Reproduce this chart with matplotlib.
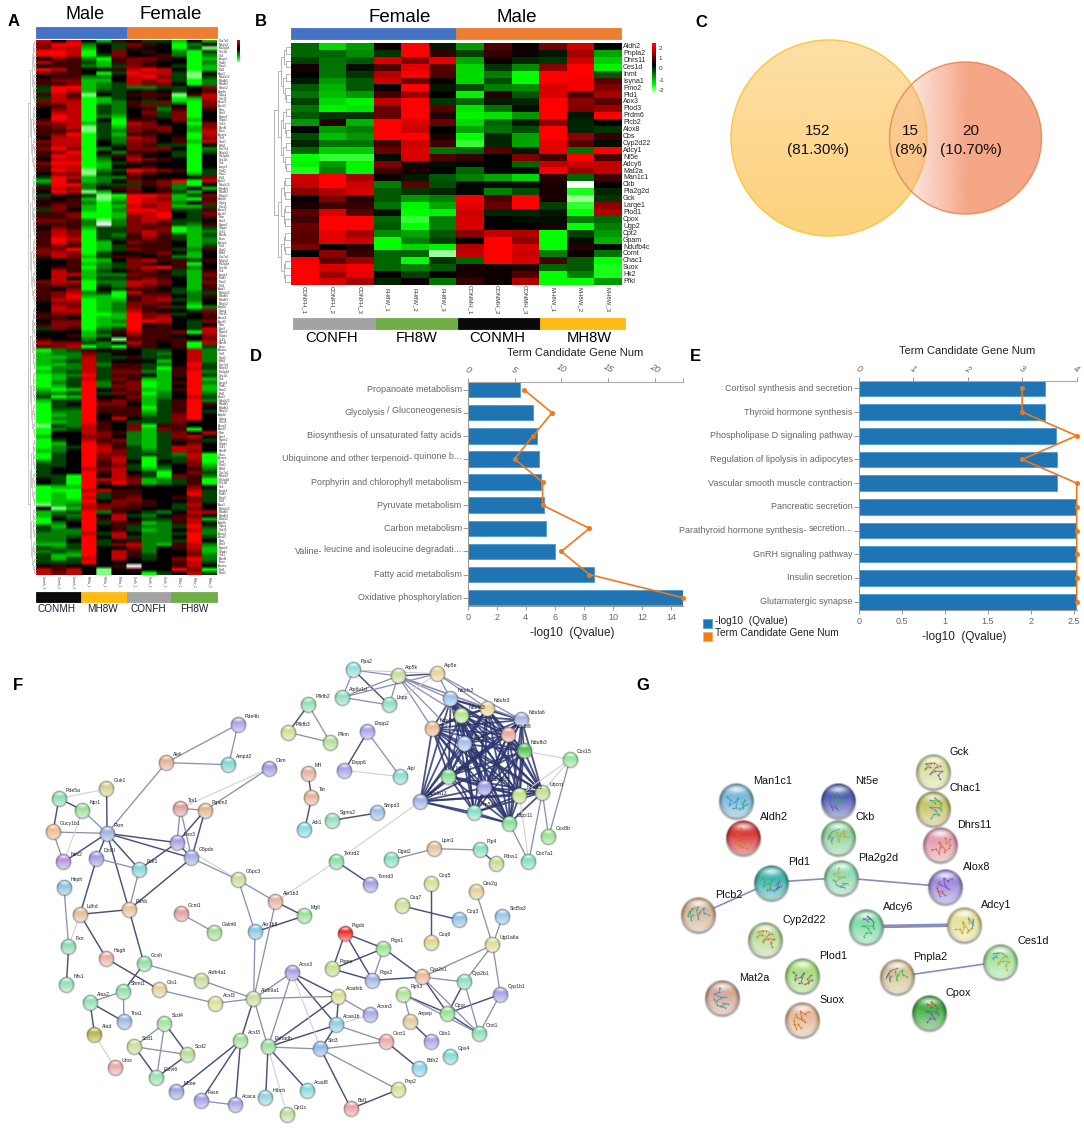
import itertools
import numpy as np
import matplotlib
matplotlib.use("Agg")
import matplotlib.pyplot as plt
from matplotlib.colors import LinearSegmentedColormap, Normalize, to_rgb
from matplotlib.patches import Circle, Rectangle

plt.rcParams['font.family'] = ['Liberation Sans', 'DejaVu Sans']
W, H = 1084, 1129
fig = plt.figure(figsize=(W / 100, H / 100), dpi=100, facecolor='white')

def axpx(x0, y0, x1, y1, **kw):
    return fig.add_axes([x0 / W, 1 - y1 / H, (x1 - x0) / W, (y1 - y0) / H], **kw)

ov = axpx(0, 0, W, H)
ov.set_axis_off()
ov.patch.set_alpha(0)
ov.set_xlim(0, W)
ov.set_ylim(H, 0)
ov.set_autoscale_on(False)

cmap = LinearSegmentedColormap.from_list('gbr', [(0, '#ffffff'), (1 / 6, '#00ff00'), (0.5, '#000000'),
                                                 (5 / 6, '#ff0000'), (1, '#ff0000')])
norm = Normalize(-3, 3)

# ------------------------------------------------------------------ Panel A data
A_ROWS = """
747 415 433 141|688 243 654 024|677 143 544 03l|887 046 454 203|887 036 445 202|465 205 665 401
755 315 654 402|455 213 654 301|875 445 787 401|655 403 877 3l4|455 224 786 3l3|566 114 767 302
556 123 766 402|388 123 223 346|387 133 454 345|575 l43 555 l57|376 013 454 017|677 012 536 106
557 032 563 406|467 032 452 505|477 032 463 604|487 021 453 604|587 040 554 614|667 130 764 406
567 l31 666 416|556 l32 656 417|568 031 554 407|477 032 764 506|677 042 664 517|577 043 653 304
686 024 666 402|568 042 554 303|587 035 644 304|477 024 765 404|688 013 544 404|577 014 454 404
587 l23 876 503|466 l34 654 413|387 122 544 446|185 124 656 807|388 233 356 204|576 245 645 241
487 l14 545 314|354 3l0 887 136|545 1l1 876 105|455 202 877 246|565 101 767 113|364 102 887 335
556 001 778 436|556 001 678 435
665 2l2 676 334|555 2w2 665 325|465 133 656 013|576 033 676 012|576 032 575 313|587 033 565 312
586 014 655 412|565 013 555 413|668 013 655 325|676 034 456 414|576 135 545 214|445 014 675 535
445 123 654 504|455 023 678 524|475 134 564 315|477 122 655 316|474 133 565 415|677 022 776 416
565 032 765 415|546 043 554 315|567 230 755 323|568 110 566 425|577 011 567 324|466 012 665 414
476 012 656 302|477 012 754 436|566 001 866 345|554 011 867 445|466 012 887 436|566 011 845 434
365 023 855 437|444 135 755 607|445 124 655 446|544 24l 555 546|766 324 754 507|567 020 554 503
023 545 433 472|122 634 432 472|112 733 533 472|123 734 441 472|112 725 532 483|022 735 530 573
123 736 621 582|012 835 541 583|013 736 511 481|023 825 601 582|013 826 601 481|101 845 611 581
223 836 502 482|301 844 612 473
133 856 513 582|034 866 413 585|033 855 503 584|022 855 513 583|012 845 523 684|022 847 433 684
012 854 333 644|l32 754 605 544|023 754 616 504|044 765 213 647|144 664 213 674|034 756 213 553
014 865 213 464|023 875 313 774|124 876 323 764|034 866 333 270|034 867 303 370|234 857 404 360
334 856 303 461|344 767 312 452|344 857 430 463|330 847 530 652|430 877 612 350|430 858 612 350
011 844 444 464|000 775 544 473|010 835 544 483|010 735 644 563|011 846 654 463|l12 766 554 374
4l1 765 544 364|123 825 432 477|132 847 324 564|043 857 433 571|024 835 512 574|314 845 322 383
322 845 312 472|222 737 422 382|223 847 322 483|224 834 522 384|113 836 721 572|323 844 624 571
232 847 524 461|311 847 534 462|313 747 434 682|333 844 444 573|454 445 w44 574|757 4l4 544 860
767 4l4 403 473
"""
A_CODES = {'w': -3.0, 'l': -2.5, '0': -2.0, '1': -1.5, '2': -1.0, '3': -0.5, '4': 0.0,
           '5': 0.5, '6': 1.0, '7': 1.5, '8': 2.0}
A_SAMPLES = ['Conmh_1', 'Conmh_2', 'Conmh_3', 'Mh8w_1', 'Mh8w_2', 'Mh8w_3',
             'Confh_1', 'Confh_2', 'Confh_3', 'Fh8w_1', 'Fh8w_2', 'Fh8w_3']
A_GENES = ['Cox7a1', 'Ndufa3', 'Pla2g2d', 'Ces1d', 'Gck', 'Large1', 'Plod1', 'Fmo2', 'Pld1', 'Aox3',
           'Ndufa13', 'Ndufb5', 'Ndufb3', 'Ndufs2', 'Atp5k', 'Uqcrq', 'Cox15', 'Acss3', 'Acsf3', 'Pkm',
           'Eno3', 'Pgam2', 'G6pdx', 'Scd1', 'Elovl6', 'Fasn', 'Acaca', 'Sirt3', 'Oxct1', 'Bdh2']
a_mat = np.array([[A_CODES[c] for c in r.replace(' ', '')]
                  for r in A_ROWS.replace('\n', '|').split('|') if r.strip()])

# ------------------------------------------------------------------ Panel B data
B_GENES = ['Aldh2', 'Pnpla2', 'Dhrs11', 'Ces1d', 'Inmt', 'Isyna1', 'Fmo2', 'Pld1', 'Aox3', 'Plod3', 'Prdm6',
           'Plcb2', 'Alox8', 'Cbs', 'Cyp2d22', 'Adcy1', 'Nt5e', 'Adcy6', 'Mat2a', 'Man1c1', 'Ckb', 'Pla2g2d',
           'Gck', 'Large1', 'Plod1', 'Cpox', 'Ugp2', 'Cpt2', 'Gpam', 'Ndufb4c', 'Comt', 'Chac1', 'Suox', 'Hk2', 'Pfkl']
B_SAMPLES = ['CONFH_1', 'CONFH_2', 'CONFH_3', 'FH8W_1', 'FH8W_2', 'FH8W_3',
             'CONMH_1', 'CONMH_2', 'CONMH_3', 'MH8W_1', 'MH8W_2', 'MH8W_3']
B_VALUES = [
    [-.8, -1.7, -1.2, .1, 2, -.2, -1.2, .6, .1, .9, 1.6, 0],
    [-.8, -.8, -1.1, -.4, 2, .4, -.5, .4, .1, -.2, 1.3, -1.3],
    [-.5, -.9, -.7, 1.7, 1, 1.8, -1.3, .1, -.3, -.4, 1.6, -1.6],
    [.2, -.9, -.1, .6, 1.8, .7, -1.7, -.4, -1.1, 1.1, 2, -1.9],
    [0, -.9, -.4, 1.4, 2, .6, -1.7, -1, -2, 2, 2, -.7],
    [-.2, -1.2, -.7, 1.6, .8, .1, -1.7, -.6, -2, 2, 1.9, .7],
    [-.7, -1.4, -.7, .1, 2, -.2, -.6, -1, -1.1, 1.7, 1.9, 1],
    [-.9, -1.5, -1.2, .5, 1.2, 0, -1.9, .3, -.7, 1.7, .6, 1.3],
    [-.5, -1.7, -1.9, 1.5, 2, -.4, -.8, -.2, -.3, 2, 1.1, .7],
    [-.9, -1.9, -1.8, .8, 2, .7, -1.8, -.9, -.1, 2, 1, 1.2],
    [-.7, -.4, -.4, .8, 2, .3, -1.9, -1.8, -1.2, 2, -.2, 2],
    [-1.2, .3, -1.4, 2, 1.7, .8, -1.7, -.8, -.2, 1.1, -.3, 0],
    [0, -1.2, -1, 2, 1.6, 0, -1.3, -.9, -.6, 2, -.3, -.4],
    [-.6, -1.5, -1.2, 2, 2, .2, -2, -.3, -1.3, 2, 1.1, .4],
    [-.3, -.9, -.9, .5, 1.6, .5, -2.2, -.3, -1.3, 1.8, .7, -.1],
    [-.8, -1.6, -1.6, .8, 1.7, -.9, -.8, .7, -.2, 1.8, -.9, 2],
    [-2, -2.2, -2.2, -.1, 1.7, .6, .4, 0, 1, .5, 2, .6],
    [-1.9, -1.2, -1.9, 1, .2, -.1, -.05, 0, -.8, 1.5, 1.6, 1.5],
    [-2.1, -1, -1.9, .5, .2, 0, -.8, -.05, -.1, 1.9, 1.2, 1.5],
    [1.6, 2, 1.3, .1, -.2, -.7, -1, -1.3, -1.7, .3, -.8, .5],
    [1.5, 2, 1.6, -1, .7, -.6, -.05, -.1, -.1, .2, -3, 0],
    [1.1, 1.4, 1.7, -.7, -.4, -.3, -.05, -1, -.6, .2, -2.1, -.3],
    [.05, 1, .3, -.7, -1.2, -1, 1.9, .6, 2, .2, -2.6, -.4],
    [.2, .5, .4, -.9, -1.9, -1.3, 1.8, .8, 2, -.5, -2.2, 1.1],
    [.7, 1.7, .7, -.1, -2, -1.9, 1.6, -.3, -.3, -.2, -2, 1.4],
    [.5, 2, 2, -.8, -2.2, -1, 1.7, 0, -.1, -.1, -1, -.8],
    [.8, 2, 2, -.7, -2, -1, 1.7, 0, 0, .2, -2, -1],
    [.7, 1.8, 1.3, -1.1, -1.3, -.7, 1.1, 1.5, 1.4, -2, -.5, -1.2],
    [.7, 1.8, 1.6, -2, -1, -.5, 0, 2, 1.1, -2, -.1, -1.4],
    [1, 0, .3, -2, -1.7, -1.9, 1.4, 2, 1.7, -2, .3, -.05],
    [0, 1.1, .4, -.8, -.8, -2.6, 1.5, 2, 1.6, -1, .1, -.9],
    [1.9, .7, 1.2, -.8, -2, -.4, -.8, 2, 1.7, .5, -.7, -2],
    [2, 1.7, 1.9, -.8, -1, -.7, .2, .1, .3, -.8, -.7, -2.1],
    [2, 1.2, 1.8, 0, -.5, 0, .2, .1, .6, -2, -1, -2.1],
    [2, 1.7, 1.3, -.3, .1, -.9, .4, .1, 1.4, -2, -2, -1.2],
]

# ------------------------------------------------------------------ Panels D, E data
D_TERMS = ['Propanoate metabolism', 'Glycolysis', 'Biosynthesis of unsaturated fatty acids',
           'Ubiquinone and other terpenoid-', 'Porphyrin and chlorophyll metabolism', 'Pyruvate metabolism',
           'Carbon metabolism', 'Valine-', 'Fatty acid metabolism', 'Oxidative phosphorylation']
D_TERMS_TAIL = {1: '/ Gluconeogenesis', 3: 'quinone b...', 7: 'leucine and isoleucine degradati...'}
D_QVALUE = [3.6, 4.52, 4.75, 4.94, 5.07, 5.28, 5.39, 5.99, 8.72, 14.8]
D_GENENUM = [6, 9, 7, 5, 8, 8, 13, 10, 13, 23]
E_TERMS = ['Cortisol synthesis and secretion', 'Thyroid hormone synthesis', 'Phospholipase D signaling pathway',
           'Regulation of lipolysis in adipocytes', 'Vascular smooth muscle contraction', 'Pancreatic secretion',
           'Parathyroid hormone synthesis-', 'GnRH signaling pathway', 'Insulin secretion', 'Glutamatergic synapse']
E_TERMS_TAIL = {6: 'secretion...'}
E_QVALUE = [2.17, 2.17, 2.29, 2.31, 2.31, 2.53, 2.53, 2.53, 2.53, 2.53]
E_GENENUM = [3, 3, 4, 3, 4, 4, 4, 4, 4, 4]

# ------------------------------------------------------------------ Panel F data (3x crop coordinates)
F_LEFT = [('Pde4b', 714, 193, '#a9a6e4'), ('Ampd2', 686, 314, '#7fd8d0'), ('Ak4', 499, 308, '#e3b39a'),
          ('Ckm', 807, 325, '#9f9fe0'), ('Guk1', 320, 387, '#d8d08f'), ('Pde5a', 177, 415, '#8fdcb0'),
          ('Npr1', 248, 451, '#9fe09f'), ('Tpi1', 541, 445, '#e0a0a0'), ('Pgam2', 615, 451, '#e0b890'),
          ('Gucy1b1', 159, 516, '#eebc8c'), ('Pkm', 321, 520, '#9fb4e4'), ('Eno3', 531, 548, '#a6a0e6'),
          ('G6pdx', 575, 594, '#9fb0e4'), ('Nos2', 191, 606, '#b794e6'), ('Dot1l', 290, 595, '#a29ee4'),
          ('Pck1', 418, 628, '#88d4d8'), ('G6pc3', 715, 660, '#c4e09a'), ('Heph', 192, 684, '#90c4dc'),
          ('Ldhd', 240, 763, '#e0c09a'), ('Pdhb', 387, 749, '#e6c49c'), ('Akr1b3', 827, 725, '#e8b4a4'),
          ('Gcnt1', 543, 761, '#e0a0a0'), ('Galnt6', 643, 817, '#a4e094'), ('Akr1b8', 765, 816, '#88c8e8'),
          ('Fxn', 206, 859, '#90dcb0'), ('Hagh', 319, 895, '#e8b0a0'), ('Gcsh', 432, 911, '#90e0a8'),
          ('Aldh4a1', 604, 961, '#c8dc98'), ('Nfs1', 199, 975, '#94e0b4'), ('Gls1', 479, 990, '#e0d498'),
          ('Shmt1', 370, 994, '#94e0a4'), ('Alas2', 270, 1027, '#94e0b4'), ('Acsl3', 647, 1030, '#dce09c'),
          ('Aldh9a1', 761, 1016, '#c8e09c'), ('Tha1', 372, 1085, '#a0b8e8'), ('Acss3', 876, 938, '#a8a4e4'),
          ('Alad', 284, 1124, '#b8b44c'), ('Scd1', 403, 1160, '#c8e09c'), ('Scd4', 494, 1090, '#a4e4a0'),
          ('Scd2', 563, 1184, '#b4e09c'), ('Elovl6', 470, 1252, '#94e4ac'), ('Acsf3', 722, 1141, '#a8e09c'),
          ('Ehhadh', 804, 1161, '#9ce09c'), ('Mcee', 530, 1294, '#a0a8e4'), ('Fasn', 603, 1322, '#a4a4e8'),
          ('Acaca', 706, 1335, '#a8a8e8'), ('Hibch', 797, 1314, '#94d4e0'), ('Cpt1c', 861, 1365, '#bce09c'),
          ('Uros', 345, 1224, '#e8aca4')]
F_RIGHT = [('Ppa2', 161, 30, '#94e0dc'), ('Atp5k', 294, 48, '#c4e09c'), ('Atp5e', 412, 41, '#e4d49c'),
           ('Atp6v1d', 127, 112, '#90e0c0'), ('Lhpp', 268, 135, '#90e0c4'), ('Pfkfb2', 25, 135, '#94e0b4'),
           ('Pfkfb3', -35, 217, '#d0e094'), ('Pfkm', 91, 247, '#b4e09c'), ('Enpp2', 202, 216, '#a8a8e8'),
           ('Enpp6', 134, 331, '#a8a4e8'), ('Alpl', 301, 350, '#8ce0d0'), ('Mif', 24, 341, '#e4b49c'),
           ('Tat', 35, 412, '#e4b49c'), ('Adi1', 14, 510, '#88dce0'), ('Sgms2', 97, 481, '#94e0bc'),
           ('Smpd3', 231, 459, '#9cc0e4'), ('Ndufs2', 452, 117, '#9cc4e8'), ('Ndufa3', 484, 167, '#b4e890'),
           ('Ndufs3', 561, 145, '#e8d49c'), ('Ndufa6', 665, 180, '#a8b4e8'), ('Ndufa1', 397, 205, '#e8bc90'),
           ('Ndufb8', 624, 224, '#eca8a0'), ('Ndufb2', 494, 252, '#a4c0ec'), ('Ndufb3', 672, 273, '#58c058'),
           ('Ndufb7', 446, 349, '#80e090'), ('Ndufb5', 554, 383, '#a8a0e8'), ('Ndufc2', 659, 406, '#c4e48c'),
           ('Uqcrq', 727, 397, '#bce090'), ('Ndufa13', 361, 424, '#a0b4e4'), ('Atp5a1', 523, 458, '#88e0c0'),
           ('Uqcr11', 628, 490, '#84e094'), ('Cox15', 810, 298, '#98e4a0'), ('Cox8b', 746, 530, '#9ce494'),
           ('Cox7a1', 686, 605, '#84e0c0'), ('Lpin1', 404, 566, '#e0c49c'), ('Dgat2', 273, 600, '#8ce0c0'),
           ('Pip4', 540, 570, '#8ce0bc'), ('Pdss1', 589, 612, '#c0e094'), ('Txnrd2', 109, 604, '#8ce0a8'),
           ('Txnrd3', 212, 673, '#a4a4e4'), ('Coq5', 394, 671, '#d8e094'), ('Coq7', 308, 738, '#d0e098'),
           ('Coq3', 479, 780, '#94c4e8'), ('Coq6', 394, 847, '#dcd890'), ('Ces2g', 528, 694, '#e0d098'),
           ('Srd5a3', 608, 769, '#98c8e8'), ('Ugt1a6a', 578, 855, '#e0dc98'), ('Ptgds', 135, 820, '#f03030'),
           ('Ptgs1', 251, 865, '#98e494'), ('Ptges', 98, 927, '#c4e090'), ('Ptgs2', 218, 961, '#a4b4e8'),
           ('Cyp2e1', 367, 951, '#ecb89c'), ('Cyp2b1', 493, 966, '#8ce0c8'), ('Cyp1b1', 601, 1003, '#a8a4e8'),
           ('Rph3', 311, 1004, '#b4e494'), ('Anpep', 332, 1084, '#e0cc98'), ('Cdo1', 394, 1145, '#a8a8e8'),
           ('Cpor', 443, 1060, '#98e494'), ('Crot1', 537, 1121, '#8ce0b4'), ('Gpx4', 452, 1189, '#88dcd4'),
           ('Acadsb', 116, 1009, '#dce094'), ('Acaa1b', 109, 1095, '#90d0e4'), ('Acsm3', 211, 1064, '#a8ace8'),
           ('Sirt3', 62, 1167, '#94b8e8'), ('Oxct1', 258, 1145, '#ecaca4'), ('Bdh2', 359, 1227, '#90d4e8'),
           ('Pnp2', 294, 1289, '#d8e094'), ('Bsl1', 153, 1346, '#e8a4a8'), ('Acad8', 22, 1291, '#88dcdc'),
           ('Mgll', 12, 768, '#98e49c')]
F_EDGES_STRONG = """Guk1-Pkm Pde5a-Npr1 Pde5a-Gucy1b1 Nos2-Pkm Pkm-Dot1l Pkm-Pck1 Pkm-Pdhb Pkm-Eno3 Pkm-G6pdx
Pgam2-Eno3 Pgam2-G6pdx Eno3-Pck1 Eno3-G6pdx Dot1l-Ldhd G6pdx-Pdhb Akr1b3-Mgll Akr1b8-Mgll Ldhd-Pdhb Ldhd-Hagh
Fxn-Nfs1 Pdhb-Gcsh Hagh-Gls1 Gcsh-Shmt1 Alas2-Tha1 Alas2-Alad Scd1-Elovl6 Scd4-Scd2 Scd2-Elovl6 Aldh9a1-Acsf3
Acss3-Acaa1b Acss3-Acadsb Acsf3-Mcee Acsf3-Fasn Acsf3-Acaca Ehhadh-Hibch Ehhadh-Acad8 Ehhadh-Acaa1b Ehhadh-Acadsb
Acadsb-Acaa1b Sirt3-Acaa1b Sirt3-Bsl1 Bsl1-Pnp2 Oxct1-Bdh2 Ppa2-Lhpp Atp5k-Atp5e Pfkfb2-Pfkfb3 Enpp2-Enpp6 Mif-Tat
Tat-Adi1 Sgms2-Smpd3 Txnrd2-Txnrd3 Pip4-Pdss1 Coq5-Coq6 Coq7-Coq3 Ptgds-Ptges Ptgds-Ptgs1 Ptgds-Ptgs2 Ptges-Ptgs1
Ptges-Ptgs2 Ptgs1-Cyp2e1 Ptgs2-Cyp2e1 Cyp2e1-Cpor Cyp2b1-Cpor Cyp1b1-Cpor Cpor-Crot1 Rph3-Cpor Anpep-Cdo1""".split()
F_EDGES_MEDIUM = """Pde4b-Ak4 Pde4b-Ampd2 Ak4-Ampd2 Ak4-Pkm Ckm-Pgam2 Npr1-Pkm Gucy1b1-Pkm Gucy1b1-Nos2 Tpi1-Pgam2
Tpi1-Eno3 Tpi1-G6pdx Dot1l-Pck1 Pck1-Pdhb G6pdx-G6pc3 G6pc3-Akr1b3 G6pc3-Akr1b8 Akr1b3-Aldh9a1 Akr1b8-Aldh9a1 Heph-Fxn
Gcsh-Aldh4a1 Aldh4a1-Aldh9a1 Gls1-Acsl3 Acsl3-Aldh9a1 Shmt1-Alas2 Shmt1-Tha1 Scd1-Scd4 Scd1-Scd2 Scd4-Elovl6 Gcnt1-Galnt6
Aldh9a1-Ehhadh Aldh9a1-Acss3 Aldh9a1-Acadsb Acss3-Ehhadh Fasn-Acaca Ehhadh-Sirt3 Acadsb-Acsm3 Acaa1b-Oxct1 Sirt3-Oxct1
Sirt3-Pnp2 Ppa2-Atp5k Ppa2-Atp6v1d Atp5k-Atp6v1d Atp5k-Lhpp Atp6v1d-Lhpp Atp6v1d-Atp5e Pfkfb2-Pfkm Pfkfb3-Pfkm Enpp2-Alpl
Atp5k-Ndufs2 Atp5k-Ndufa1 Atp5k-Ndufa6 Atp5k-Ndufs3 Atp5k-Ndufa3 Atp5e-Ndufs2 Atp5e-Ndufa6 Atp5e-Ndufs3 Atp5k-Ndufb2
Cox7a1-Uqcr11 Cox7a1-Uqcrq Cox8b-Uqcrq Cox8b-Cox15 Dgat2-Lpin1 Lpin1-Pip4 Ces2g-Ugt1a6a Srd5a3-Ugt1a6a Ugt1a6a-Cyp1b1
Ugt1a6a-Cyp2e1 Ugt1a6a-Cyp2b1 Ptgs1-Ptgs2 Cyp2e1-Cyp2b1 Cyp2e1-Crot1 Cyp2b1-Crot1 Cyp1b1-Crot1 Rph3-Anpep Rph3-Crot1""".split()
F_EDGES_WEAK = """Ckm-Tpi1 Pde5a-Guk1 Npr1-Nos2 G6pc3-Eno3 Akr1b3-Txnrd2 Ldhd-Fxn Alad-Uros Acss3-Sirt3 Ehhadh-Cpt1c
Acaa1b-Acsm3 Ppa2-Atp5e Lhpp-Atp5e Enpp6-Alpl Cox15-Uqcrq Cox15-Ndufb3 Cox15-Ndufc2 Cox7a1-Ndufc2 Ndufa13-Txnrd2""".split()
F_CLUSTER = ['Ndufs2', 'Ndufa3', 'Ndufs3', 'Ndufa6', 'Ndufa1', 'Ndufb8', 'Ndufb2', 'Ndufb3', 'Ndufb7',
             'Ndufb5', 'Ndufc2', 'Uqcrq', 'Ndufa13', 'Atp5a1', 'Uqcr11']

# ------------------------------------------------------------------ Panel G data (3x crop coordinates)
G_NODES = [('Man1c1', 290, 243, '#7db7d8', 340, 183), ('Aldh2', 311, 353, '#d93a3a', 361, 292),
           ('Nt5e', 596, 243, '#5562b8', 646, 183), ('Ckb', 596, 353, '#8fd49f', 646, 292),
           ('Gck', 880, 155, '#d5e29c', 930, 95), ('Chac1', 880, 265, '#c8c56a', 930, 205),
           ('Dhrs11', 902, 375, '#e3a0b0', 952, 314), ('Pld1', 393, 487, '#43b5ae', 443, 427),
           ('Pla2g2d', 604, 473, '#8fdcb2', 654, 413), ('Alox8', 917, 500, '#9f8fdc', 968, 440),
           ('Plcb2', 175, 585, '#d6b797', 225, 524), ('Cyp2d22', 377, 658, '#b8dd9c', 427, 599),
           ('Adcy6', 678, 620, '#84dcac', 728, 561), ('Adcy1', 972, 615, '#e6e19d', 1022, 555),
           ('Plod1', 487, 768, '#a7e07f', 537, 708), ('Mat2a', 246, 833, '#d7a897', 296, 774),
           ('Suox', 487, 899, '#e4bc9a', 537, 840), ('Pnpla2', 771, 770, '#d8c697', 820, 710),
           ('Ces1d', 1082, 725, '#a5e3a0', 1132, 664), ('Cpox', 869, 877, '#43b047', 918, 818)]
G_EDGES = [('Plcb2', 'Pld1', 1.2), ('Pld1', 'Pla2g2d', 1.2), ('Pla2g2d', 'Alox8', 1.2),
           ('Adcy6', 'Adcy1', 2.6), ('Pnpla2', 'Ces1d', 1.2)]
G_RIBBON_U = [-.55, -.35, -.45, -.1, .1, -.05, .3, .5, .35, .6, .2, -.2]
G_RIBBON_V = [-.3, -.05, .3, .1, -.25, .45, .2, -.1, .5, .25, .6, .55]
G_RIBBON_COLORS = ['#2f8fd0', '#e05a2a', '#30b060', '#c8a020', '#8040c0']

# ================================================================== drawing helpers
def dendro(ax_like, lo, hi, x_right, x_left, ytop, rowh, color='#b8b8b8', lw=.5):
    span = max(1, hi - lo)
    total = x_right - x_left
    def rec(a, b, n):
        if b - a == 1:
            return ytop + (a + .5) * rowh, x_right
        m = (a + b) // 2
        y1, x1 = rec(a, m, n)
        y2, x2 = rec(m, b, n)
        xp = x_right - total * ((b - a) / n) ** .45
        ax_like.plot([x1, xp, xp, x2], [y1, y1, y2, y2], color=color, lw=lw, zorder=1)
        return (y1 + y2) / 2, xp
    return rec(lo, hi, span)

def sphere(rgb_hex, n=44):
    c = np.array(to_rgb(rgb_hex))
    g = np.linspace(-1.18, 1.18, n)
    u, v = np.meshgrid(g, g)
    r = np.hypot(u, v)
    light = np.clip(.5 * (v + .2), 0, .5)[..., None]
    img = c * (1 - light) + light
    dark = np.clip((r - .72) / .28, 0, 1)[..., None] * np.clip(.7 - .75 * v, .05, .8)[..., None]
    img = img * (1 - dark) + (c * .4) * dark
    hl = (np.exp(-((u / .5) ** 2 + ((v + .62) / .2) ** 2)) * .75)[..., None]
    img = img * (1 - hl) + hl
    alpha = np.clip((1 - r) * n / 4, 0, 1)
    rs = np.hypot(u, v - .12)
    sh = np.clip((1.04 - rs) * 8, 0, 1) * .5
    out_a = alpha + (1 - alpha) * sh
    rgb = (img * alpha[..., None] + .3 * (1 - alpha[..., None]) * sh[..., None]) / np.maximum(out_a[..., None], 1e-3)
    return np.dstack([np.clip(rgb, 0, 1), out_a])

def put_sphere(x, y, rad, col, z=5):
    e = rad * 1.18
    ov.imshow(sphere(col), extent=(x - e, x + e, y + e, y - e), zorder=z, aspect='auto', interpolation='bilinear')

def strip(edges, y0, y1, colors, edge=None):
    for x0, x1, c in zip(edges[:-1], edges[1:], colors):
        ov.add_patch(Rectangle((x0, y0), x1 - x0, y1 - y0, facecolor=c, edgecolor=edge or c, lw=.6, zorder=2))

def label(x, y, s, size, **kw):
    kw.setdefault('ha', 'center')
    kw.setdefault('va', 'center')
    kw.setdefault('color', 'black')
    return ov.text(x, y, s, fontsize=size, zorder=20, **kw)

# ================================================================== panel letters
for s, x, y in [('A', 13.5, 22), ('B', 261, 22), ('C', 701.5, 22.5), ('D', 255.5, 356.5), ('E', 695, 356.5),
                ('F', 17.5, 685.5), ('G', 643, 685.5)]:
    label(x, y, s, 12, fontweight='bold')

# ================================================================== Panel A
axa = axpx(36, 39.5, 217, 575)
axa.imshow(np.repeat(a_mat, 10, axis=1), cmap=cmap, norm=norm, aspect='auto', interpolation='bilinear')
axa.set_axis_off()
strip([36, 127, 217], 27, 38, ['#4472c4', '#ed7d31'])
label(85, 14.5, 'Male', 13)
label(171, 14.5, 'Female', 13.5)
strip([36, 81, 127, 171, 217], 592, 602, ['#0a0a0a', '#fbbc13', '#a3a3a3', '#70ad47'])
for x, s in zip([56, 103, 148, 194], ['CONMH', 'MH8W', 'CONFH', 'FH8W']):
    label(x, 608.5, s, 7.2, color='#1a1f3a')
nrow_a = a_mat.shape[0]
rowh_a = (575 - 39.5) / nrow_a
for i in range(nrow_a):
    label(218.5, 39.5 + (i + .5) * rowh_a, A_GENES[i % len(A_GENES)], 2.2, ha='left', color='#333333')
for j, s in enumerate(A_SAMPLES):
    label(36 + (j + .5) * 181 / 12, 582, s, 2.2, rotation=-90, color='#444444')
dendro(ov, 0, nrow_a // 2, 35.5, 28, 39.5, rowh_a)
dendro(ov, nrow_a // 2, nrow_a, 35.5, 28, 39.5, rowh_a)
ov.plot([28, 28], [160, 460], color='#b8b8b8', lw=.5, zorder=1)
axac = axpx(237, 39.5, 239.5, 62)
axac.imshow(np.linspace(2, -2.6, 64)[:, None], cmap=cmap, norm=norm, aspect='auto')
axac.set_axis_off()

# ================================================================== Panel B
axb = axpx(290.5, 43.3, 621.5, 285)
axb.imshow(np.array(B_VALUES), cmap=cmap, norm=norm, aspect='auto', interpolation='nearest')
axb.set_axis_off()
strip([291, 455.7, 621], 28, 39, ['#4472c4', '#ed7d31'], None)
label(400, 17, 'Female', 13.5)
label(517, 17, 'Male', 13.5)
strip([293, 376, 458, 540, 625], 318, 329, ['#a3a3a3', '#70ad47', '#0a0a0a', '#fbbc13'])
for x, s in zip([332, 417, 497, 589], ['CONFH', 'FH8W', 'CONMH', 'MH8W']):
    label(x, 338, s, 10.6)
rowh_b = (285 - 43.3) / len(B_GENES)
for i, g in enumerate(B_GENES):
    label(623, 43.3 + (i + .5) * rowh_b, g, 5, ha='left', color='#222222')
for j, s in enumerate(B_SAMPLES):
    label(290.5 + (j + .5) * 331 / 12, 300, s, 4.3, rotation=-90, color='#333333')
dendro(ov, 0, 19, 290, 278, 43.3, rowh_b, color='#a8a8a8', lw=.6)
dendro(ov, 19, 35, 290, 278, 43.3, rowh_b, color='#a8a8a8', lw=.6)
ov.plot([278, 274, 274, 278], [110, 110, 215, 215], color='#a8a8a8', lw=.6, zorder=1)
axbc = axpx(652, 43, 656, 93)
axbc.imshow(np.linspace(2.2, -2.8, 64)[:, None], cmap=cmap, norm=norm, aspect='auto')
axbc.set_axis_off()
for s, y in zip(['2', '1', '0', '-1', '-2'], [48, 59, 69, 80, 90]):
    label(658.5, y, s, 4.5, ha='left', color='#333333')

# ================================================================== Panel C
vg = np.linspace(0, 1, 64)[:, None]
left_img = np.array(to_rgb('#fddfa6')) * (1 - vg[..., None]) + np.array(to_rgb('#fdd27c')) * vg[..., None]
im1 = ov.imshow(left_img, extent=(731, 927, 236, 40), zorder=3, aspect='auto')
im1.set_clip_path(Circle((829, 138), 98, transform=ov.transData))
ov.add_patch(Circle((829, 138), 98, fill=False, edgecolor='#f8c63f', lw=1, zorder=4))
xs = np.linspace(889.5, 1041.5, 160)
ramp = np.clip(.3 + .7 * (xs - 913) / (967 - 913), .3, 1)
right_img = np.zeros((2, xs.size, 4))
right_img[..., :3] = to_rgb('#f5a687')
right_img[..., 3] = ramp
im2 = ov.imshow(right_img, extent=(889.5, 1041.5, 214, 62), zorder=5, aspect='auto')
im2.set_clip_path(Circle((965.5, 138), 76, transform=ov.transData))
ov.add_patch(Circle((965.5, 138), 76, fill=False, edgecolor='#ee8b57', lw=1, zorder=6))
for x, a, b in [(818, '152', '(81.30%)'), (910.7, '15', '(8%)'), (970.7, '20', '(10.70%)')]:
    label(x, 131, a, 11, color='#111111')
    label(x, 150, b, 11, color='#111111')

# ================================================================== Panels D, E
def enrich(box, qvals, nums, terms, tails, xmax, top_max, top_ticks, top_labels, bot_ticks, ylim, hbar):
    ax = axpx(*box)
    y = np.arange(len(qvals))
    ax.barh(y, qvals, height=hbar, color='#1f74b4', edgecolor='#4a9ad4', lw=.6, zorder=2)
    ax.set_xlim(0, xmax)
    ax.set_ylim(*ylim)
    for s in ['top', 'right']:
        ax.spines[s].set_visible(False)
    for s in ['left', 'bottom']:
        ax.spines[s].set_color('#999999')
    ax.set_xticks(bot_ticks)
    ax.set_xticklabels([str(t) for t in bot_ticks])
    ax.tick_params(axis='x', length=3, width=.7, color='#999999', labelcolor='#666666', labelsize=6.5, pad=2)
    ax.set_yticks(y)
    ax.set_yticklabels([])
    ax.tick_params(axis='y', length=3.5, width=.7, color='#999999')
    tw = ax.twiny()
    tw.set_xlim(0, top_max)
    tw.plot(nums, y, color='#f07818', lw=1.2, marker='o', ms=2.6, zorder=5, clip_on=False)
    for s in ['left', 'right', 'bottom']:
        tw.spines[s].set_visible(False)
    tw.spines['top'].set_color('#aaaaaa')
    tw.set_xticks(top_ticks)
    tw.set_xticklabels(top_labels)
    tw.tick_params(axis='x', length=3, width=.7, color='#999999', labelcolor='#666666', labelsize=6.5,
                   pad=2, labelrotation=-30)
    for t in tw.get_xticklabels():
        t.set_fontstyle('italic')
    x_text = box[0] - 6
    renderer = fig.canvas.get_renderer()
    for i, t in enumerate(terms):
        yp = ax.transData.transform((0, i))
        yy = H - yp[1] / fig.dpi * 100
        tail = tails.get(i)
        if tail is None:
            label(x_text, yy, t, 6.5, ha='right', color='#666666')
        else:
            txt = label(x_text, yy - 2, tail, 6.5, ha='right', color='#666666')
            r = txt.get_window_extent(renderer)
            label(r.x0 * 100 / fig.dpi - 2, yy, t, 6.5, ha='right', color='#666666')
    return ax

enrich((467.7, 382, 683, 606), D_QVALUE, D_GENENUM, D_TERMS, D_TERMS_TAIL, 14.83, 23, [0, 5, 10, 15, 20, 23],
       ['0', '5', '10', '15', '20', ''], [0, 2, 4, 6, 8, 10, 12, 14], (9.36, -.33), .67)
enrich((858.7, 380.7, 1076.7, 610), E_QVALUE, E_GENENUM, E_TERMS, E_TERMS_TAIL, 2.535, 4, [0, 1, 2, 3, 4],
       ['0', '1', '2', '3', '4'], [0, .5, 1, 1.5, 2, 2.5], (9.35, -.32), .66)
label(575, 353, 'Term Candidate Gene Num', 8, color='#222222')
label(967, 351, 'Term Candidate Gene Num', 8, color='#222222')
label(572, 633, '-log10  (Qvalue)', 8.5, color='#222222')
label(964, 637, '-log10  (Qvalue)', 8.5, color='#222222')
ov.add_patch(Rectangle((702.7, 619), 9.3, 9.3, facecolor='#1f74b4', edgecolor='#4a9ad4', lw=.5, zorder=6))
ov.add_patch(Rectangle((702.7, 632), 9.3, 9.3, facecolor='#f57c14', edgecolor='#f9a860', lw=.5, zorder=6))
label(715, 621, '-log10  (Qvalue)', 7.3, ha='left', color='#222222')
label(715, 633, 'Term Candidate Gene Num', 7.3, ha='left', color='#222222')

# ================================================================== Panel F
pos = {n: (x / 3, 660 + y / 3) for n, x, y, c in F_LEFT}
pos.update({n: (300 + x / 3, 660 + y / 3) for n, x, y, c in F_RIGHT})
def edge(a, b, color, lw, z=3, al=1.0):
    ov.plot([pos[a][0], pos[b][0]], [pos[a][1], pos[b][1]], color=color, lw=lw, alpha=al,
            solid_capstyle='round', zorder=z)
for a, b in itertools.combinations(F_CLUSTER, 2):
    edge(a, b, '#2d3670', 1.3, al=.85)
for e in F_EDGES_STRONG:
    edge(*e.split('-'), '#4a507f', 1.05)
for e in F_EDGES_MEDIUM:
    edge(*e.split('-'), '#8d90b4', .95)
for e in F_EDGES_WEAK:
    edge(*e.split('-'), '#cfd0d8', .8)
for n, x, y, c in F_LEFT + F_RIGHT:
    px, py = pos[n]
    put_sphere(px, py, 8.0, c)
    label(px + 7, py - 8, n, 3.7, ha='left', color='#222222')

# ================================================================== Panel G
gpos = {n: (640 + x / 3, 720 + y / 3) for n, x, y, c, lx, ly in G_NODES}
for a, b, lw in G_EDGES:
    ov.plot([gpos[a][0], gpos[b][0]], [gpos[a][1], gpos[b][1]], color='#8a8db8', lw=lw, zorder=4)
for k, (n, x, y, c, lx, ly) in enumerate(G_NODES):
    px, py = gpos[n]
    put_sphere(px, py, 18, c, z=5)
    ang = k * .9
    uu = np.array(G_RIBBON_U) * np.cos(ang) - np.array(G_RIBBON_V) * np.sin(ang) * .8
    vv = np.array(G_RIBBON_U) * np.sin(ang) + np.array(G_RIBBON_V) * np.cos(ang) * .8
    c1_, c2_ = G_RIBBON_COLORS[k % 5], G_RIBBON_COLORS[(k + 2) % 5]
    ov.plot(px + 17 * uu[:6], py + 17 * vv[:6], color=c1_, lw=.6, alpha=.8, zorder=6)
    ov.plot(px + 17 * uu[6:], py + 17 * vv[6:], color=c2_, lw=.6, alpha=.8, zorder=6)
    ov.scatter(px + 17 * uu, py + 17 * vv, s=1.6, color=c1_, alpha=.8, lw=0, zorder=6)
    label(640 + lx / 3, 720 + ly / 3, n, 7.8, ha='left', color='#111111')

ov.set_zorder(10)
fig.savefig('out.png', dpi=100, facecolor='white')
